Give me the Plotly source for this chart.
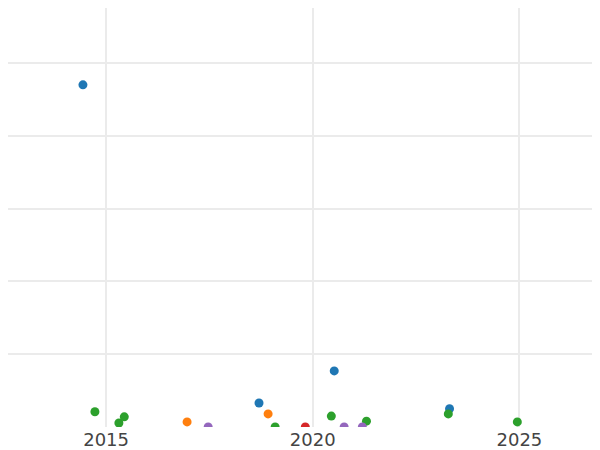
import plotly.graph_objects as go

# Decimal-year x values and y values per series
blue_x = [2014.44, 2018.70, 2020.52, 2023.31]
blue_y = [470, 33, 77, 25]
orange_x = [2016.96, 2018.92]
orange_y = [7, 18]
green_x = [2014.73, 2015.31, 2015.44, 2019.09, 2020.45, 2021.30, 2023.28, 2024.95]
green_y = [21, 5.5, 14, 0, 15, 8, 18, 7]
red_x = [2019.82]
red_y = [0]
purple_x = [2017.47, 2020.76, 2021.20]
purple_y = [0, 0, 0]

x_ticks = [2015, 2020, 2025]

series = [
    ("A", blue_x, blue_y, "#1f77b4"),
    ("B", orange_x, orange_y, "#ff7f0e"),
    ("C", green_x, green_y, "#2ca02c"),
    ("D", red_x, red_y, "#d62728"),
    ("E", purple_x, purple_y, "#9467bd"),
]

fig = go.Figure()
for name, xs, ys, col in series:
    fig.add_trace(go.Scatter(x=xs, y=ys, mode="markers", name=name,
                             marker=dict(color=col, size=9)))

fig.update_layout(
    width=592, height=442,
    margin=dict(l=0, r=0, t=0, b=23),
    paper_bgcolor="white", plot_bgcolor="white",
    showlegend=False,
    font=dict(family="DejaVu Sans", size=18, color="#444"),
)
fig.update_xaxes(range=[2012.627, 2026.95], tickvals=x_ticks,
                 ticktext=[str(t) for t in x_ticks],
                 showgrid=True, gridcolor="#ebebeb", gridwidth=2,
                 zeroline=False, showline=False, ticks="")
fig.update_yaxes(range=[0, 575.5], dtick=100, showticklabels=False,
                 showgrid=True, gridcolor="#ebebeb", gridwidth=2,
                 zeroline=False, showline=False, ticks="")

fig.write_html("out.html", config={"displayModeBar": False})
